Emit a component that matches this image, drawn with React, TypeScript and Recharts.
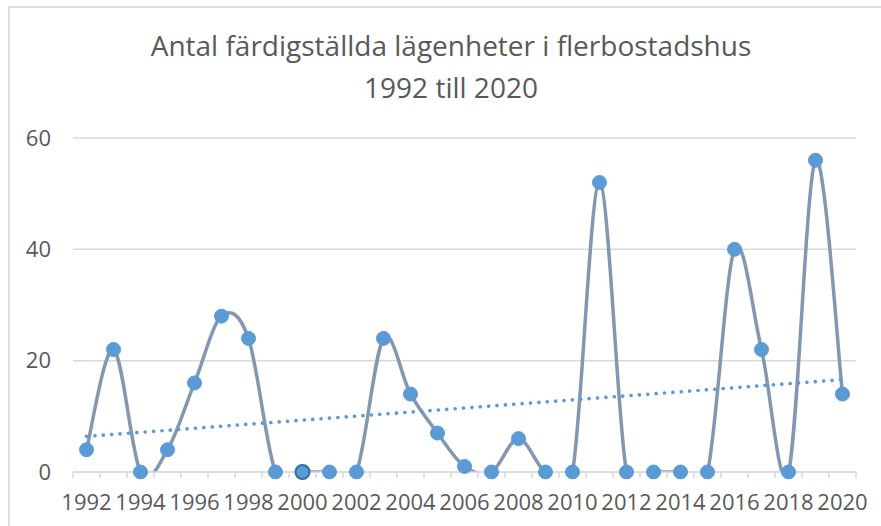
import React from 'react';
import { LineChart, Line, XAxis, YAxis, CartesianGrid } from 'recharts';

const years = [
  1992, 1993, 1994, 1995, 1996, 1997, 1998, 1999, 2000, 2001, 2002, 2003, 2004, 2005, 2006,
  2007, 2008, 2009, 2010, 2011, 2012, 2013, 2014, 2015, 2016, 2017, 2018, 2019, 2020,
];
const completed = [
  4, 22, 0, 4, 16, 28, 24, 0, 0, 0, 0, 24, 14, 7, 1, 0, 6, 0, 0, 52, 0, 0, 0, 0, 40, 22, 0, 56, 14,
];
const trendStart = 6.4;
const trendEnd = 16.6;
const highlightedYear = 2000;
const yTicks = [0, 20, 40, 60];
const xLabelYears = [1992, 1994, 1996, 1998, 2000, 2002, 2004, 2006, 2008, 2010, 2012, 2014, 2016, 2018, 2020];
const titleLines = ['Antal färdigställda lägenheter i flerbostadshus', '1992 till 2020'];

const data = years.map((year, i) => ({
  year,
  value: completed[i],
  trend: i === 0 ? trendStart : i === years.length - 1 ? trendEnd : null,
  highlight: year === highlightedYear ? completed[i] : null,
}));

const boundaries = [...years.map((y) => y - 0.5), years[years.length - 1] + 0.5];
const xTicks = [...boundaries, ...xLabelYears].sort((a, b) => a - b);

const FONT = '"Open Sans", "Noto Sans", sans-serif';
const TEXT = '#595959';
const GRID = '#d9d9d9';

// Excel-like smoothed line (Catmull-Rom as cubic Bezier)
const excelSmooth = (context: any) => {
  let pts: [number, number][] = [];
  return {
    areaStart() {},
    areaEnd() {},
    lineStart() {
      pts = [];
    },
    point(x: number, y: number) {
      pts.push([+x, +y]);
    },
    lineEnd() {
      const n = pts.length;
      if (!n) return;
      context.moveTo(pts[0][0], pts[0][1]);
      for (let i = 0; i < n - 1; i++) {
        const p0 = pts[Math.max(i - 1, 0)];
        const p1 = pts[i];
        const p2 = pts[i + 1];
        const p3 = pts[Math.min(i + 2, n - 1)];
        context.bezierCurveTo(
          p1[0] + (p2[0] - p0[0]) / 6,
          p1[1] + (p2[1] - p0[1]) / 6,
          p2[0] - (p3[0] - p1[0]) / 6,
          p2[1] - (p3[1] - p1[1]) / 6,
          p2[0],
          p2[1]
        );
      }
    },
  };
};

const XTick = (props: any) => {
  const { x, y, payload } = props;
  const v = payload.value as number;
  if (!Number.isInteger(v)) {
    return <line x1={x} x2={x} y1={y} y2={y + 6} stroke={GRID} strokeWidth={1.5} />;
  }
  return (
    <text x={x} y={y + 38} textAnchor="middle" fill={TEXT} fontSize={22} fontFamily={FONT}>
      {v}
    </text>
  );
};

export default function App() {
  return (
    <div style={{ position: 'fixed', left: 0, top: 0, width: 881, height: 526, overflow: 'hidden', background: '#fff' }}>
      <div
        style={{
          position: 'absolute',
          left: 8,
          top: 6,
          width: 900,
          height: 600,
          border: '2px solid #dedede',
          boxSizing: 'border-box',
        }}
      />
      <div
        style={{
          position: 'absolute',
          left: 101,
          top: 24,
          width: 700,
          textAlign: 'center',
          fontFamily: FONT,
          fontSize: 28,
          lineHeight: '42px',
          color: TEXT,
          whiteSpace: 'nowrap',
        }}
      >
        {titleLines.map((t) => (
          <div key={t}>{t}</div>
        ))}
      </div>
      <div style={{ position: 'absolute', left: 0, top: 0 }}>
        <LineChart width={881} height={526} data={data} margin={{ top: 138, right: 25, bottom: 24, left: 0 }}>
          <CartesianGrid horizontal vertical={false} stroke={GRID} strokeWidth={1.5} />
          <XAxis
            dataKey="year"
            type="number"
            domain={[boundaries[0], boundaries[boundaries.length - 1]]}
            ticks={xTicks}
            interval={0}
            tick={<XTick />}
            tickLine={false}
            tickSize={0}
            tickMargin={0}
            axisLine={{ stroke: GRID, strokeWidth: 1.5 }}
            height={30}
          />
          <YAxis
            type="number"
            domain={[0, 60]}
            ticks={yTicks}
            allowDataOverflow
            axisLine={false}
            tickLine={false}
            tickSize={0}
            tickMargin={22}
            width={73}
            tick={{ fill: TEXT, fontSize: 22, fontFamily: FONT }}
          />
          <Line
            dataKey="value"
            type={excelSmooth as any}
            stroke="#8497b0"
            strokeWidth={3.5}
            dot={{ r: 7, fill: '#5b9bd5', stroke: '#5b9bd5', strokeWidth: 1, clipDot: false }}
            activeDot={false}
            isAnimationActive={false}
          />
          <Line
            dataKey="highlight"
            stroke="none"
            dot={{ r: 7, fill: '#5b9bd5', stroke: '#2f6ea8', strokeWidth: 2, clipDot: false }}
            activeDot={false}
            isAnimationActive={false}
          />
          <Line
            dataKey="trend"
            type="linear"
            connectNulls
            stroke="#5b9bd5"
            strokeWidth={3.6}
            strokeDasharray="0.1 8.3"
            strokeLinecap="round"
            dot={false}
            activeDot={false}
            isAnimationActive={false}
          />
        </LineChart>
      </div>
    </div>
  );
}
